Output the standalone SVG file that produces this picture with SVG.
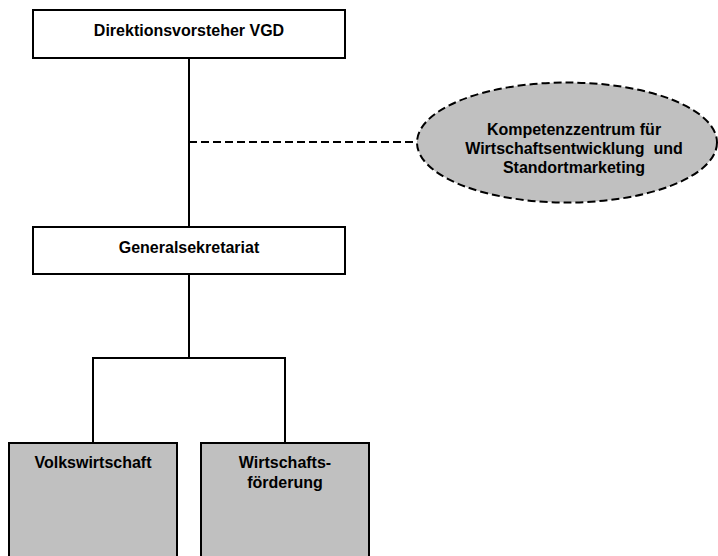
<svg xmlns="http://www.w3.org/2000/svg" width="718" height="556" viewBox="0 0 718 556">
<style>
text{font-family:"Liberation Sans",Arial,sans-serif;font-weight:bold;fill:#000;text-anchor:middle;font-size:16px}
.box{fill:#fff;stroke:#000;stroke-width:2}
.gbox{fill:#c0c0c0;stroke:#000;stroke-width:2}
.line{fill:none;stroke:#000;stroke-width:2}
.dash{fill:none;stroke:#000;stroke-width:2;stroke-dasharray:8 4}
</style>
<rect width="718" height="556" fill="#fff"/>
<g id="connectors">
<line class="line" x1="189" y1="58" x2="189" y2="227"/>
<line class="dash" x1="189" y1="142" x2="418" y2="142"/>
<polyline class="line" points="189,274 189,358"/>
<polyline class="line" points="93,443 93,358 285,358 285,443"/>
</g>
<g id="n1">
<rect class="box" x="33" y="10" width="312" height="48"/>
<text x="189" y="36">Direktionsvorsteher VGD</text>
</g>
<g id="n2">
<ellipse class="dash" cx="567" cy="142.5" rx="150" ry="60" style="fill:#c0c0c0"/>
<text><tspan x="574" y="135">Kompetenzzentrum für</tspan><tspan x="574" y="154" xml:space="preserve">Wirtschaftsentwicklung  und</tspan><tspan x="574" y="173">Standortmarketing</tspan></text>
</g>
<g id="n3">
<rect class="box" x="33" y="227" width="312" height="47"/>
<text x="189" y="253">Generalsekretariat</text>
</g>
<g id="n4">
<rect class="gbox" x="9" y="443" width="168" height="120"/>
<text x="93" y="468">Volkswirtschaft</text>
</g>
<g id="n5">
<rect class="gbox" x="201" y="443" width="168" height="120"/>
<text><tspan x="285" y="468">Wirtschafts-</tspan><tspan x="285" y="488">förderung</tspan></text>
</g>
</svg>
